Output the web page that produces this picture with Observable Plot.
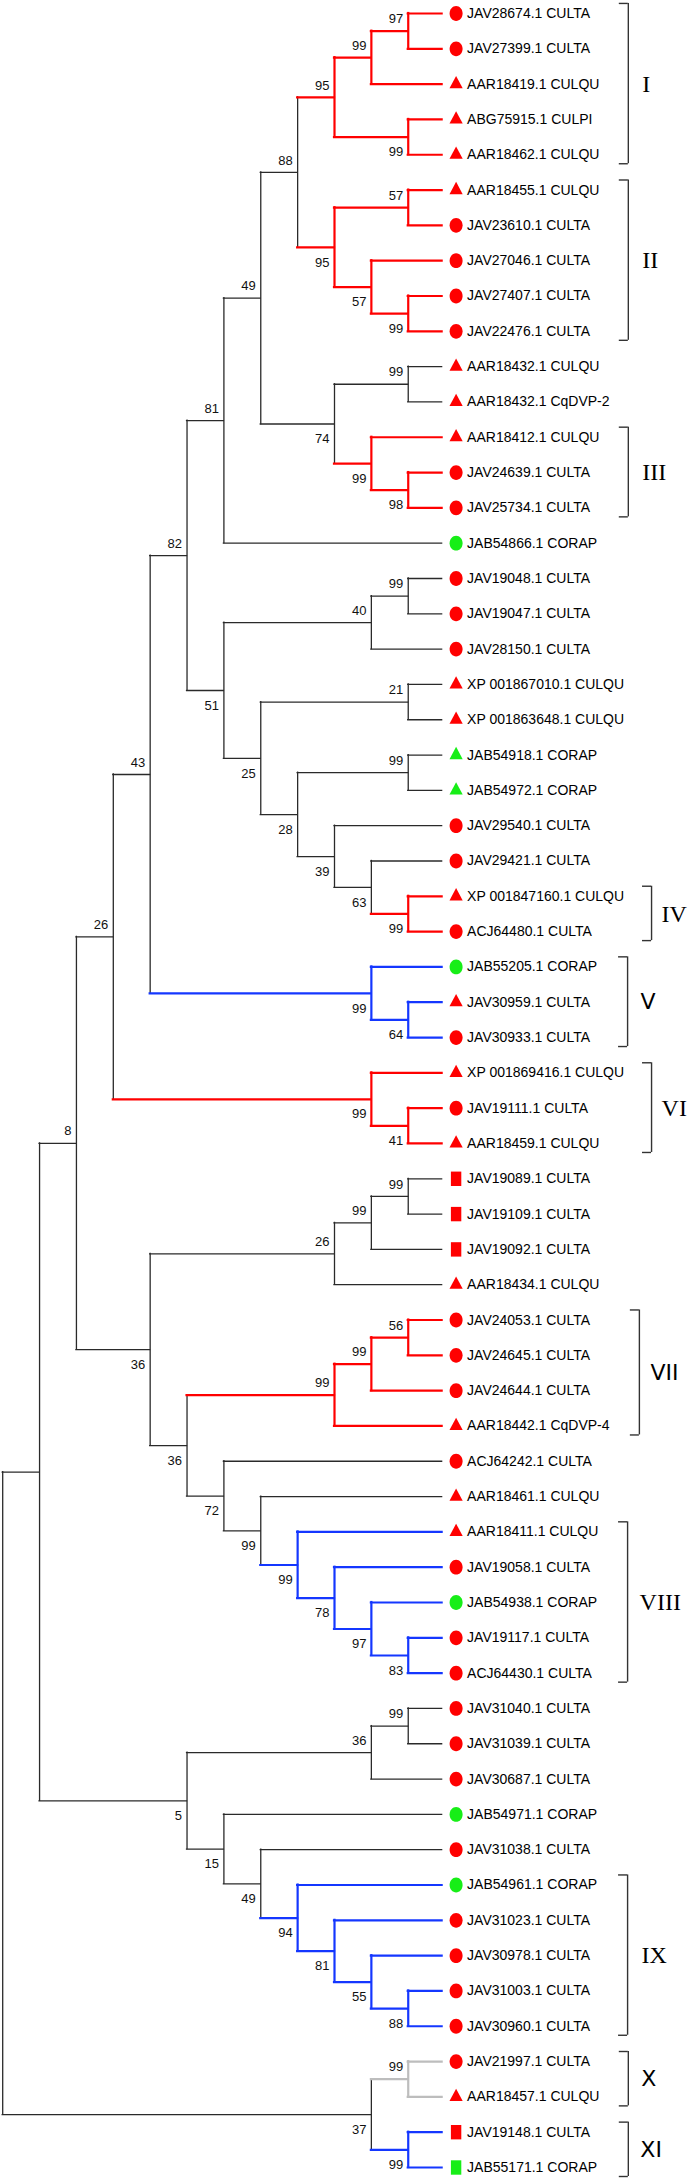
<!DOCTYPE html>
<html>
<head>
<meta charset="utf-8">
<script src="https://cdn.jsdelivr.net/npm/d3@7"></script>
<script src="https://cdn.jsdelivr.net/npm/@observablehq/plot@0.6"></script>
<style>
  html, body { margin: 0; padding: 0; background: #fff; }
  #chart svg { display: block; }
</style>
</head>
<body>
<div id="chart"></div>
<script>
// ---------------- DATA ----------------
const leafNames = [
  "JAV28674.1 CULTA","JAV27399.1 CULTA","AAR18419.1 CULQU","ABG75915.1 CULPI","AAR18462.1 CULQU",
  "AAR18455.1 CULQU","JAV23610.1 CULTA","JAV27046.1 CULTA","JAV27407.1 CULTA","JAV22476.1 CULTA",
  "AAR18432.1 CULQU","AAR18432.1 CqDVP-2","AAR18412.1 CULQU","JAV24639.1 CULTA","JAV25734.1 CULTA",
  "JAB54866.1 CORAP","JAV19048.1 CULTA","JAV19047.1 CULTA","JAV28150.1 CULTA","XP 001867010.1 CULQU",
  "XP 001863648.1 CULQU","JAB54918.1 CORAP","JAB54972.1 CORAP","JAV29540.1 CULTA","JAV29421.1 CULTA",
  "XP 001847160.1 CULQU","ACJ64480.1 CULTA","JAB55205.1 CORAP","JAV30959.1 CULTA","JAV30933.1 CULTA",
  "XP 001869416.1 CULQU","JAV19111.1 CULTA","AAR18459.1 CULQU","JAV19089.1 CULTA","JAV19109.1 CULTA",
  "JAV19092.1 CULTA","AAR18434.1 CULQU","JAV24053.1 CULTA","JAV24645.1 CULTA","JAV24644.1 CULTA",
  "AAR18442.1 CqDVP-4","ACJ64242.1 CULTA","AAR18461.1 CULQU","AAR18411.1 CULQU","JAV19058.1 CULTA",
  "JAB54938.1 CORAP","JAV19117.1 CULTA","ACJ64430.1 CULTA","JAV31040.1 CULTA","JAV31039.1 CULTA",
  "JAV30687.1 CULTA","JAB54971.1 CORAP","JAV31038.1 CULTA","JAB54961.1 CORAP","JAV31023.1 CULTA",
  "JAV30978.1 CULTA","JAV31003.1 CULTA","JAV30960.1 CULTA","JAV21997.1 CULTA","AAR18457.1 CULQU",
  "JAV19148.1 CULTA","JAB55171.1 CORAP"
];
// marker type per leaf: o = circle, ^ = triangle, s = square
const leafMarker = [
  "o","o","^","^","^",  "^","o","o","o","o",
  "^","^","^","o","o",  "o","o","o","o","^",
  "^","^","^","o","o",  "^","o","o","^","o",
  "^","o","^","s","s",  "s","^","o","o","o",
  "^","o","^","^","o",  "o","o","o","o","o",
  "o","o","o","o","o",  "o","o","o","o","^",
  "s","s"
];
// tree topology (leaf indices) with bootstrap support values
const topology =
  "((((((((((((0,1)97,2)99,(3,4)99)95,((5,6)57,(7,(8,9)99)57)95)88," +
  "((10,11)99,(12,(13,14)98)99)74)49,15)81," +
  "(((16,17)99,18)40,((19,20)21,((21,22)99,(23,(24,(25,26)99)63)39)28)25)51)82," +
  "(27,(28,29)64)99)43,(30,(31,32)41)99)26," +
  "((((33,34)99,35)99,36)26,((((37,38)56,39)99,40)99," +
  "(41,(42,(43,(44,(45,(46,47)83)97)78)99)99)72)36)36)8," +
  "(((48,49)99,50)36,(51,(52,(53,(54,(55,(56,57)88)55)81)94)49)15)5)," +
  "((58,59)99,(60,61)99)37)";
// clades (first / last leaf index)
const cladeNames = ["I","II","III","IV","V","VI","VII","VIII","IX","X","XI"];
const cladeFirst = [0, 5, 12, 25, 27, 30, 37, 43, 53, 58, 60];
const cladeLast  = [4, 9, 14, 26, 29, 32, 40, 47, 57, 59, 61];
const cladeGroup = ["red","red","red","red","blue","red","red","blue","blue","gray","blue"];

// ---------------- STYLE / LAYOUT ----------------
const groupColor = {red: "#ff0000", blue: "#1437ff", gray: "#bdbdbd"};
const branchBlack = "#2a2a2a";
const markerRed = "#ff0000", markerGreen = "#17ee17";
const bracketX = [16.97,16.97,16.97,17.6,16.95,17.6,17.27,16.95,16.95,16.97,16.97];
const romanDx  = [14, 14, 14, 10, 13, 10, 11, 12, 14, 13, 12];
const serifRoman = new Set(["I","II","III","IV","VI","VIII","IX"]);

// ---------------- BUILD TREE ----------------
function parseNewick(s) {
  let i = 0;
  function node() {
    if (s[i] === "(") {
      i++;
      const children = [node()];
      while (s[i] === ",") { i++; children.push(node()); }
      i++; // ')'
      let lab = "";
      while (i < s.length && /[0-9]/.test(s[i])) lab += s[i++];
      return {children, support: lab === "" ? null : +lab};
    }
    let lab = "";
    while (/[0-9]/.test(s[i])) lab += s[i++];
    return {leaf: +lab};
  }
  return node();
}
const root = d3.hierarchy(parseNewick(topology), d => d.children);
const H = root.height;
root.eachAfter(n => {
  n.lv = H - n.height;
  if (n.children) n.yy = d3.mean(n.children, c => c.yy);
  else n.yy = n.data.leaf;
  n.color = null;
});
cladeNames.forEach((name, k) => {
  let target = null;
  root.each(n => {
    const ls = n.leaves().map(l => l.data.leaf);
    if (d3.min(ls) === cladeFirst[k] && d3.max(ls) === cladeLast[k]) { if (!target) target = n; }
  });
  if (target) target.each(d => d.color = groupColor[cladeGroup[k]]);
});

const horiz = [], vert = [], boots = [];
root.each(n => {
  if (n.parent) {
    horiz.push({y: n.yy, x1: n.parent.lv, x2: n.children ? n.lv : n.lv - 0.08, color: n.color || branchBlack, colored: !!n.color});
  }
  if (n.children) {
    vert.push({x: n.lv, y1: n.children[0].yy, y2: n.children[n.children.length - 1].yy, color: n.color || branchBlack, colored: !!n.color});
    if (n.parent && n.data.support != null) {
      boots.push({x: n.lv, y: n.yy, text: String(n.data.support), above: n.parent.children[0] === n});
    }
  }
});

const leaves = leafNames.map((name, i) => ({
  i, name, marker: leafMarker[i],
  fill: name.endsWith("CORAP") ? markerGreen : markerRed
}));
const clades = cladeNames.map((name, k) => ({
  name, first: cladeFirst[k], last: cladeLast[k], bx: bracketX[k], dx: romanDx[k],
  top: cladeFirst[k] - 0.285, bottom: cladeLast[k] + 0.255, mid: (cladeFirst[k] + cladeLast[k]) / 2
}));

// custom marker shapes
const ellipseSym = {draw(ctx) {
  const rx = 6.5, ry = 7.4, k = 0.5523;
  ctx.moveTo(rx, 0);
  ctx.bezierCurveTo(rx, ry * k, rx * k, ry, 0, ry);
  ctx.bezierCurveTo(-rx * k, ry, -rx, ry * k, -rx, 0);
  ctx.bezierCurveTo(-rx, -ry * k, -rx * k, -ry, 0, -ry);
  ctx.bezierCurveTo(rx * k, -ry, rx, -ry * k, rx, 0);
  ctx.closePath();
}};
const triSym = {draw(ctx) { ctx.moveTo(0, -8.2); ctx.lineTo(6.6, 4.1); ctx.lineTo(-6.6, 4.1); ctx.closePath(); }};
const rectSym = {draw(ctx) { ctx.rect(-5.2, -7.2, 10.4, 14.4); }};
const symFor = {o: ellipseSym, "^": triSym, s: rectSym};

const TIP = 12;
const romanMarks = clades.map(d => Plot.text([d], {
  x: "bx", y: "mid", text: "name", textAnchor: "start", dx: d.dx,
  fontSize: serifRoman.has(d.name) ? 24 : 22,
  fontFamily: serifRoman.has(d.name) ? "'Liberation Serif', 'Times New Roman', serif" : "'DejaVu Sans', Verdana, sans-serif",
  fill: "#000",
  ariaLabel: serifRoman.has(d.name) ? "roman-serif" : "roman-sans"
}));

const plot = Plot.plot({
  width: 689,
  height: 2179,
  margin: 0,
  x: {domain: [0, 12], range: [2.2, 444.6], axis: null},
  y: {domain: [0, 61], range: [13, 2167], axis: null},
  color: {type: "identity"},
  style: {fontFamily: "'Liberation Sans', Arial, sans-serif", background: "#fff", color: "#000"},
  marks: [
    // black branches
    Plot.ruleY(horiz.filter(d => !d.colored), {y: "y", x1: "x1", x2: "x2", stroke: "color", strokeWidth: 1.3, strokeLinecap: "square"}),
    Plot.ruleX(vert.filter(d => !d.colored), {x: "x", y1: "y1", y2: "y2", stroke: "color", strokeWidth: 1.3, strokeLinecap: "square"}),
    // coloured clades
    Plot.ruleY(horiz.filter(d => d.colored), {y: "y", x1: "x1", x2: "x2", stroke: "color", strokeWidth: 2.2, strokeLinecap: "square"}),
    Plot.ruleX(vert.filter(d => d.colored), {x: "x", y1: "y1", y2: "y2", stroke: "color", strokeWidth: 2.2, strokeLinecap: "square"}),
    // bootstrap values
    Plot.text(boots.filter(d => d.above), {x: "x", y: "y", text: "text", textAnchor: "end", dx: -5, dy: -12, fontSize: 13, fill: "#111"}),
    Plot.text(boots.filter(d => !d.above), {x: "x", y: "y", text: "text", textAnchor: "end", dx: -5, dy: 15, fontSize: 13, fill: "#111"}),
    // markers
    ...["o", "^", "s"].map(m => Plot.dot(leaves.filter(d => d.marker === m), {
      x: () => TIP, y: "i", symbol: symFor[m], fill: "fill", stroke: null, dx: 11
    })),
    // leaf labels
    Plot.text(leaves, {x: () => TIP, y: "i", text: "name", textAnchor: "start", dx: 22, fontSize: 14, fill: "#000"}),
    // brackets
    Plot.ruleX(clades, {x: "bx", y1: "top", y2: "bottom", stroke: "#333", strokeWidth: 1.4}),
    Plot.ruleY(clades, {y: "top", x1: d => d.bx - 0.245, x2: "bx", stroke: "#333", strokeWidth: 1.4}),
    Plot.ruleY(clades, {y: "bottom", x1: d => d.bx - 0.245, x2: "bx", stroke: "#333", strokeWidth: 1.4}),
    // roman numerals
    ...romanMarks
  ]
});
document.getElementById("chart").appendChild(plot);
d3.select(plot).selectAll('g[aria-label="roman-sans"] text').style("letter-spacing", "2px");
</script>
</body>
</html>
